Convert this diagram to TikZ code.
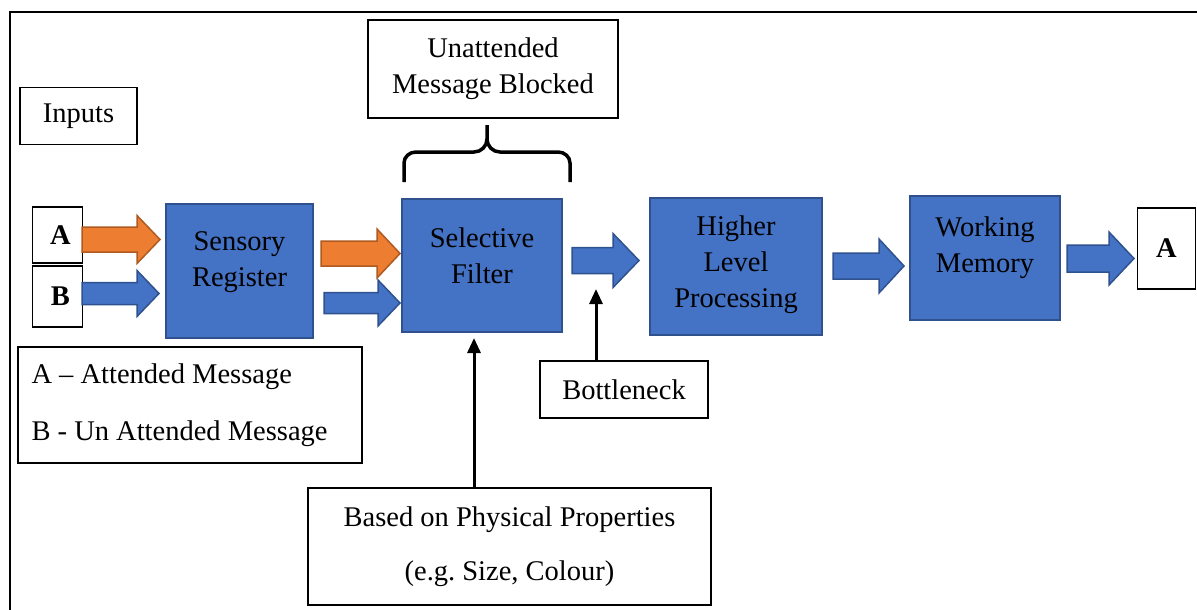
\documentclass[tikz,border=0pt]{standalone}
\usepackage{fontspec}
\setmainfont{Liberation Serif}[Ligatures=TeX]
\newfontfamily\timesface{Liberation Serif}[Ligatures=TeX]
\usetikzlibrary{arrows.meta}

\definecolor{boxblue}{HTML}{4472C4}
\definecolor{boxblueline}{HTML}{2F528F}
\definecolor{arrorange}{HTML}{ED7D31}
\definecolor{arrorangeline}{HTML}{AE5A21}

% block arrow: style, tail x, head base x, tip x, centre y, shaft half-height, head half-height
\newcommand\bkarrow[7]{%
  \draw[#1] (#2,#5-#6) -- (#3,#5-#6) -- (#3,#5-#7) -- (#4,#5)
    -- (#3,#5+#7) -- (#3,#5+#6) -- (#2,#5+#6) -- cycle;}

\begin{document}
\begin{tikzpicture}[x=1pt,y=-1pt,
  every node/.style={font=\timesface\fontsize{28.5}{36}\selectfont},
  plainbox/.style={draw=black,line width=1.8pt,fill=white,inner sep=0pt,align=center},
  boldtext/.style={font=\timesface\bfseries\fontsize{28.5}{36}\selectfont},
  stage/.style={draw=boxblueline,line width=2pt,fill=boxblue,inner sep=0pt},
  stagetext/.style={align=center,font=\timesface\fontsize{28.5}{36}\selectfont},
  bluearr/.style={fill=boxblue,draw=boxblueline,line width=1.5pt,line join=miter},
  orangearr/.style={fill=arrorange,draw=arrorangeline,line width=1.5pt,line join=miter},
  pointer/.style={line width=3pt,-{Triangle[length=15pt,width=13pt]}}]
\useasboundingbox (0,0) rectangle (1197,610);

% outer frame
\draw[line width=1.5pt] (10,610) -- (10,12);
\draw[line width=2.2pt] (9.25,12) -- (1197,12);

% labels and inputs
\node[plainbox,minimum width=117,minimum height=57] (inputs) at (78.5,116) {Inputs};
\node[plainbox,boldtext,minimum width=50,minimum height=56] (ina) at (57.5,235) {\hspace{6pt}A};
\node[plainbox,boldtext,minimum width=50,minimum height=61] (inb) at (57.5,296.5) {\hspace{6pt}B};

% processing stages
\node[stage,minimum width=147,minimum height=134,
  label={[stagetext,yshift=9]center:Sensory\\Register}] (sr) at (239.5,271) {};
\node[stage,minimum width=160,minimum height=133,
  label={[stagetext,yshift=10]center:Selective\\Filter}] (sf) at (482,265.5) {};
\node[stage,minimum width=172,minimum height=137,
  label={[stagetext,yshift=2]center:Higher\\Level\\Processing}] (hlp) at (736,266.5) {};
\node[stage,minimum width=150,minimum height=124,
  label={[stagetext,yshift=10]center:Working\\Memory}] (wm) at (985,258) {};
\node[plainbox,boldtext,minimum width=58,minimum height=81] (outa) at (1166.5,248.5) {A};

% block arrows between the stages
\bkarrow{orangearr}{82}{137}{160}{239.5}{12.5}{24}
\bkarrow{bluearr}{82}{137}{159}{293.5}{11}{23}
\bkarrow{orangearr}{321}{377}{400}{253.5}{12.5}{24.5}
\bkarrow{bluearr}{324}{378}{400}{303}{10.5}{23}
\bkarrow{bluearr}{572}{613}{639}{260.5}{13}{27}
\bkarrow{bluearr}{833}{879}{904}{266}{13}{27}
\bkarrow{bluearr}{1067}{1109}{1134}{258.5}{13.5}{26.5}

% filter annotation and brace
\node[plainbox,minimum width=250,minimum height=98] (blocked) at (493,69)
  {Unattended\\Message Blocked};
\draw[line width=3.5pt,line cap=butt,line join=round]
  (404,182) -- (404,163) to[out=90,in=180] (416,152) -- (474,152)
  to[out=0,in=-90] (487,139) -- (487,125);
\draw[line width=3.5pt,line cap=butt,line join=round]
  (570,182) -- (570,163) to[out=90,in=0] (558,152) -- (500,152)
  to[out=180,in=-90] (487,139);

% legend
\node[draw=black,line width=1.8pt,minimum width=344,minimum height=116,inner sep=0pt] (legend) at (190,405) {};
\node[anchor=west] (lega) at (28,377) {A -- Attended Message};
\node[anchor=west] (legb) at (28,434) {B - Un Attended Message};

% bottleneck
\node[plainbox,minimum width=168,minimum height=57] (bn) at (624,389.5) {Bottleneck};
\coordinate (bntip) at (596,289);
\draw[pointer] (bn.north -| bntip) -- (bntip);

% physical properties
\node[plainbox,minimum width=403,minimum height=117,
  label={[yshift=27]center:Based on Physical Properties},
  label={[yshift=-27]center:(e.g.\ Size, Colour)}] (based) at (509.5,546.5) {};
\coordinate (pp) at (474,0);
\draw[pointer,shorten >=5pt] (based.north -| pp) -- (sf.south -| pp);
\end{tikzpicture}
\end{document}
